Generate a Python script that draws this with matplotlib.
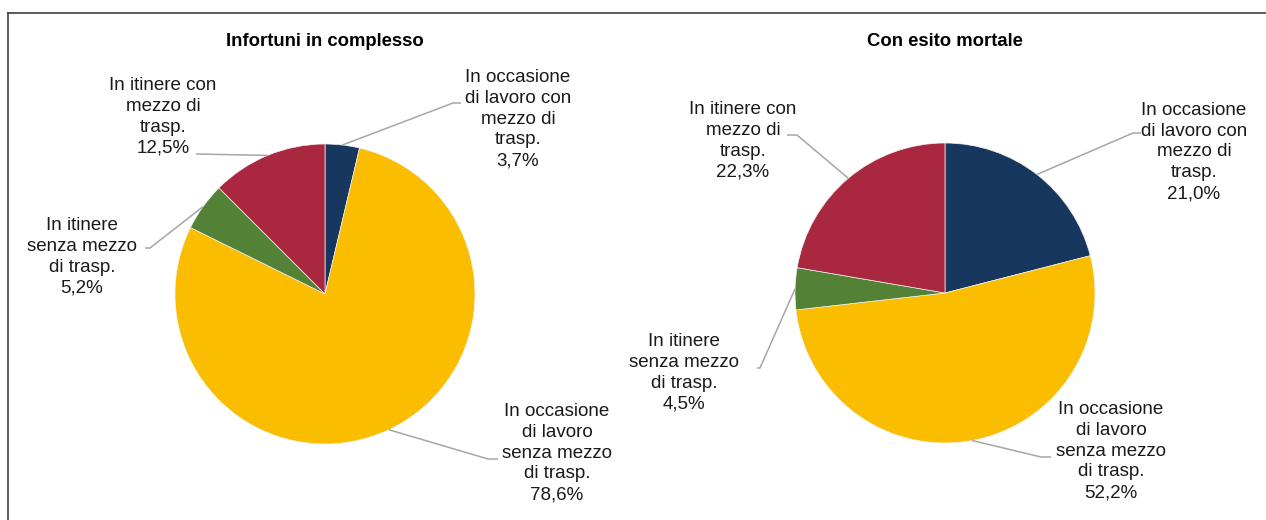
import numpy as np
import matplotlib.pyplot as plt

# share of accidents by type (percent)
categories = [
    "In occasione\ndi lavoro con\nmezzo di\ntrasp.",
    "In occasione\ndi lavoro\nsenza mezzo\ndi trasp.",
    "In itinere\nsenza mezzo\ndi trasp.",
    "In itinere con\nmezzo di\ntrasp.",
]
infortuni_totali = [3.7, 78.6, 5.2, 12.5]
infortuni_mortali = [21.0, 52.2, 4.5, 22.3]
titles = ["Infortuni in complesso", "Con esito mortale"]

colors = ["#17375E", "#FABD00", "#538135", "#A9283F"]
leader_color = "#A6A6A6"

W, H = 1266, 520
plt.rcParams["font.family"] = ["Liberation Sans", "DejaVu Sans"]


def up(y):
    # layout below is given in pixels from the top edge
    return H - y


# per pie: centre, title y, label centre, elbow and end of the leader line
layouts = [
    dict(center=(325, 294), title_y=42,
         text=[(518, 119), (557, 453), (82, 257), (163, 117)],
         elbow=[(453, 103), (488, 459), (150, 248), (196, 154)],
         end=[(461, 103), (498, 459), (145, 248), (196, 154)]),
    dict(center=(945, 293), title_y=42,
         text=[(1194, 152), (1111, 451), (684, 373), (743, 141)],
         elbow=[(1133, 133), (1041, 457), (760, 368), (797, 135)],
         end=[(1141, 133), (1051, 457), (757, 368), (787, 135)]),
]
radius = 150

fig = plt.figure(figsize=(W / 100, H / 100), dpi=100)
ax = fig.add_axes([0, 0, 1, 1])

for values, title, lay in zip([infortuni_totali, infortuni_mortali], titles, layouts):
    cx, cy = lay["center"][0], up(lay["center"][1])
    wedges, _ = ax.pie(values, colors=colors, startangle=90, counterclock=False,
                       center=(cx, cy), radius=radius, frame=True,
                       wedgeprops=dict(edgecolor="#F2F2F2", linewidth=0.5))
    ax.text(cx, up(lay["title_y"]), title, ha="center", va="center",
            fontsize=13.3, fontweight="bold", color="black")

    for i, w in enumerate(wedges):
        mid = np.deg2rad((w.theta1 + w.theta2) / 2)
        ex, ey = cx + radius * np.cos(mid), cy + radius * np.sin(mid)
        bx, by = lay["elbow"][i]
        tx, ty = lay["end"][i]
        ax.plot([ex, bx, tx], [ey, up(by), up(ty)], color=leader_color,
                lw=1.1, solid_capstyle="butt", zorder=1)
        label = categories[i] + "\n" + f"{values[i]:.1f}".replace(".", ",") + "%"
        lx, ly = lay["text"][i]
        ax.text(lx, up(ly), label, ha="center", va="center", fontsize=13.5,
                linespacing=1.29, color="#1A1A1A", multialignment="center")

ax.set_xlim(0, W)
ax.set_ylim(0, H)
ax.axis("off")

# chart border (top and left edges visible)
ax.plot([8, W], [up(13), up(13)], color="#404040", lw=1.2, clip_on=False)
ax.plot([8, 8], [up(13), 0], color="#404040", lw=1.2, clip_on=False)

fig.savefig("out.png", dpi=100)
